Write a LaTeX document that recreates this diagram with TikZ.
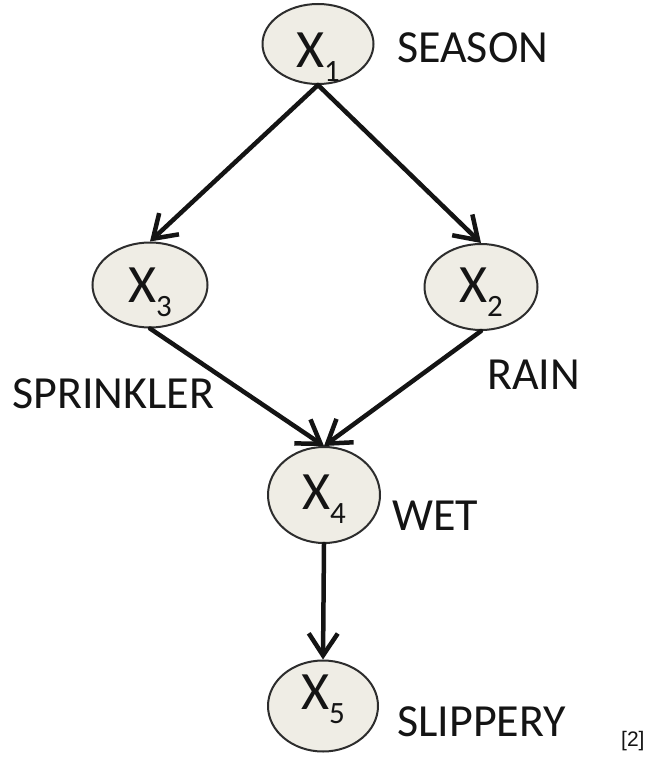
\documentclass[tikz,border=0pt]{standalone}
\usepackage{fontspec}
\setmainfont{Carlito}
\newfontfamily\citefont{Liberation Sans}
\usetikzlibrary{shapes.geometric,arrows.meta}
\definecolor{nodefill}{RGB}{239,237,229}
\definecolor{nodeline}{RGB}{45,45,45}
\definecolor{ink}{RGB}{20,20,20}
% variable name X_i, lowered by #1 below the node centre
\newcommand{\var}[2]{\raisebox{-#1}[0pt][0pt]{X\raisebox{-14pt}{\fontsize{31}{31}\selectfont #2}}}
\begin{document}
\begin{tikzpicture}[x=1pt,y=1pt,
  varnode/.style={ellipse,draw=nodeline,line width=2pt,fill=nodefill,inner sep=0pt,
    text=ink,font=\fontsize{54}{54}\selectfont},
  tag/.style={text=ink,font=\fontsize{46}{46}\selectfont,inner sep=0pt,anchor=base west},
  link/.style={line width=4.5pt,draw=ink,line cap=round,line join=round,
    -{Straight Barb[length=22pt,width=29pt]}}]
\useasboundingbox (0,0) rectangle (648,-757);
% variables
\node[varnode,minimum width=111pt,minimum height=80pt] (x1) at (318,-44) {\var{24pt}{1}};
\node[varnode,minimum width=115pt,minimum height=85pt] (x3) at (150,-285) {\var{17pt}{3}};
\node[varnode,minimum width=113pt,minimum height=86pt] (x2) at (481,-287) {\var{15pt}{2}};
\node[varnode,minimum width=112pt,minimum height=96pt] (x4) at (324,-495) {\var{14pt}{4}};
\node[varnode,minimum width=110pt,minimum height=91pt] (x5) at (323,-706) {\var{3pt}{5}};
% names
\node[tag] (season) at (397,-63) {SEASON};
\node[tag] (sprinkler) at (12,-408) {SPRINKLER};
\node[tag] (rain) at (487,-389) {RAIN};
\node[tag] (wet) at (392,-530) {WET};
\node[tag] (slippery) at (397,-736) {SLIPPERY};
\node[text=ink,font=\citefont\fontsize{21}{21}\selectfont,inner sep=0pt,anchor=base west] (cite) at (621,-746) {[2]};
% dependencies
\draw[link] (x1.south) -- (x3.north);
\draw[link] (x1.south) -- (x2.north);
\draw[link] (x3.south) -- (x4.north);
\draw[link] (x2.south) -- (x4.north);
\draw[link] (x4.south) -- (x5.north);
\end{tikzpicture}
\end{document}
